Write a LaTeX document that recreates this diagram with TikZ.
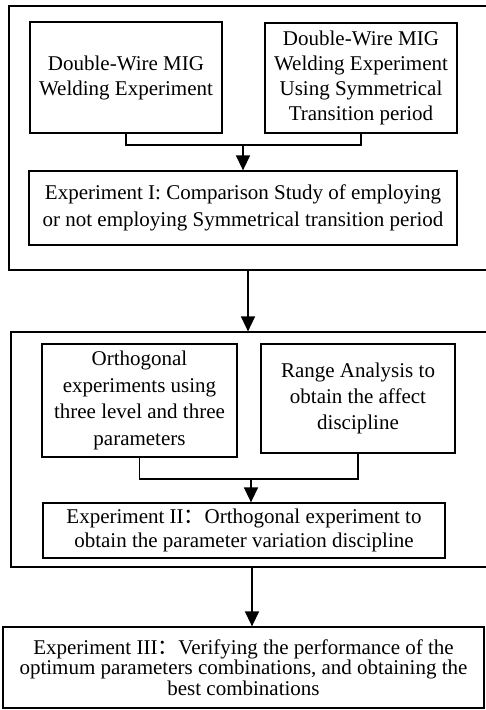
\documentclass[tikz,border=0pt]{standalone}
\usepackage{fontspec}
\setmainfont{Liberation Serif}
\newfontfamily\cjk{Noto Sans CJK SC}
\usetikzlibrary{arrows.meta}
\newcommand{\fwcolon}{{\cjk ：}}
\begin{document}
\begin{tikzpicture}[x=1pt,y=-1pt,
  box/.style={draw, line width=1.3pt, inner sep=0pt, align=center, font={\fontsize{21}{25}\selectfont}},
  outer/.style={draw, line width=1.2pt, inner sep=0pt},
  conn/.style={line width=1.5pt},
  arr/.style={line width=1.5pt, -{Triangle[length=15pt,width=14pt]}}]
\useasboundingbox (0,0) rectangle (485,710);
% outer frames
\node[outer, minimum width=478pt, minimum height=264pt] (O1) at (248,138) {};
\node[outer, minimum width=476pt, minimum height=235pt] (O2) at (249,449.5) {};
% first group
\node[box, minimum width=192pt, minimum height=111pt] (A) at (126,77.5) {Double-Wire MIG\\Welding Experiment};
\node[box, minimum width=192pt, minimum height=110pt] (B) at (361,78) {Double-Wire MIG\\Welding Experiment\\Using Symmetrical\\Transition period};
\node[box, minimum width=428pt, minimum height=74pt, font={\fontsize{21}{27}\selectfont}] (C) at (243,208) {Experiment I: Comparison Study of employing\\or not employing Symmetrical transition period};
% second group
\node[box, minimum width=195pt, minimum height=113pt, font={\fontsize{21}{26.7}\selectfont}] (D) at (139.5,400.5) {Orthogonal\\experiments using\\three level and three\\parameters};
\node[box, minimum width=194pt, minimum height=109pt, font={\fontsize{21}{26}\selectfont}] (E) at (358,398.5) {Range Analysis to\\obtain the affect\\discipline};
\node[box, minimum width=402pt, minimum height=55pt, font={\fontsize{21}{24}\selectfont}] (F) at (244,530.5) {Experiment II\fwcolon Orthogonal experiment to\\obtain the parameter variation discipline};
% third
\node[box, minimum width=481pt, minimum height=81pt, font={\fontsize{21}{20.5}\selectfont}] (G) at (243.5,667.5) {Experiment III\fwcolon Verifying the performance of the\\optimum parameters combinations, and obtaining the\\best combinations};
% connectors
\coordinate (j1) at (243,145);
\draw[conn] (A.south) |- (j1) -| (B.south);
\draw[arr] (j1) -- (j1 |- C.north);
\draw[arr] (O1.south) -- (O1.south |- O2.north);
\coordinate (j2) at (251,479);
\draw[conn] (D.south) |- (j2) -| (E.south);
\draw[arr] (j2) -- (j2 |- F.north);
\coordinate (j3) at (252,567);
\draw[arr] (j3) -- (j3 |- G.north);
\end{tikzpicture}
\end{document}
